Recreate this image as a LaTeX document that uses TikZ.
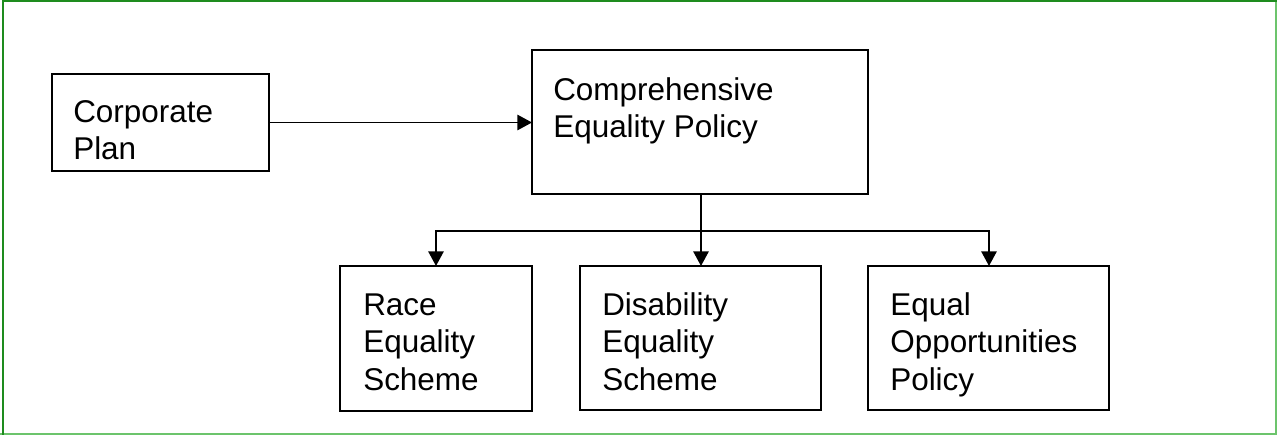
\documentclass[tikz,border=0pt]{standalone}
\usepackage{fontspec}
\setmainfont{Liberation Sans}
\usetikzlibrary{arrows.meta}
\definecolor{framedark}{HTML}{1E8C1E}
\definecolor{framelight}{HTML}{6CC46C}
\begin{document}
\begin{tikzpicture}[x=0.75pt,y=-0.75pt,
  box/.style={draw=black,line width=1.4pt,rectangle,inner sep=0pt,outer sep=0pt,anchor=north west},
  lbl/.style={anchor=north west,inner sep=0pt,align=left,
    font=\fontsize{23.6}{28.3}\selectfont},
  link/.style={draw=black,line width=1.4pt},
  tip/.style={-{Triangle[length=11pt,width=11.5pt]}}]
\useasboundingbox (0,0) rectangle (1277,435);
\fill[white] (0,0) rectangle (1277,435);
% outer frame
\draw[framelight,line width=1.2pt] (1276.2,0) -- (1276.2,434.2) -- (0,434.2);
\draw[framedark,line width=1.6pt] (2.8,435) -- (2.8,1.1) -- (1277,1.1);
% boxes (sizes given in px, 1px = 0.75pt)
\node[box,minimum width=217*0.75pt,minimum height=97*0.75pt] (corp) at (52,74) {};
\node[box,minimum width=336*0.75pt,minimum height=144*0.75pt] (ceqp) at (532,50) {};
\node[box,minimum width=192*0.75pt,minimum height=145*0.75pt] (race) at (340,266) {};
\node[box,minimum width=241*0.75pt,minimum height=144*0.75pt] (dis) at (580,266) {};
\node[box,minimum width=241*0.75pt,minimum height=144*0.75pt] (eop) at (868,266) {};
% texts (first baseline sits 26.67px below each anchor)
\node[lbl] (tcorp) at (73,95.3) {\rule{0pt}{20pt}Corporate\\Plan};
\node[lbl] (tceqp) at (553,73.3) {\rule{0pt}{20pt}Comprehensive\\Equality Policy};
\node[lbl] (trace) at (363,288.3) {\rule{0pt}{20pt}Race\\Equality\\Scheme};
\node[lbl] (tdis) at (602,288.3) {\rule{0pt}{20pt}Disability\\Equality\\Scheme};
\node[lbl] (teop) at (890,288.3) {\rule{0pt}{20pt}Equal\\Opportunities\\Policy};
% connectors
\coordinate (trunk) at (701,231);
\draw[link,tip] (corp.east) -- (corp.east -| ceqp.west);
\draw[link,tip] (ceqp.south -| trunk) -- (dis.north -| trunk);
\draw[link,tip] (trunk) -- (trunk -| 436,0) -- (race.north -| 436,0);
\draw[link,tip] (trunk) -- (trunk -| 989,0) -- (eop.north -| 989,0);
\end{tikzpicture}
\end{document}
